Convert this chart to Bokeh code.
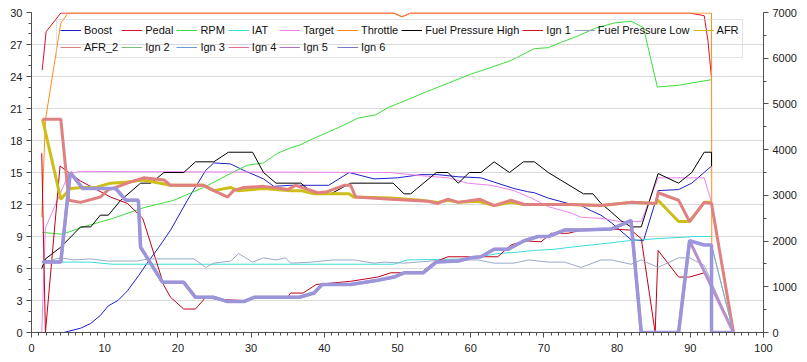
from bokeh.plotting import figure
from bokeh.models import (Range1d, LinearAxis, Legend, LegendItem, ColumnDataSource,
                          SingleIntervalTicker)
from bokeh.embed import file_html
from bokeh.resources import INLINE

# ---------------- data (x = time, y = value) ----------------
boost = [(4.4, 0), (6.7, 0.4), (8.1, 0.85), (9.4, 1.6), (10.5, 2.5), (11.8, 3.0), (13.1, 3.9),
         (14.6, 5.3), (15.9, 6.6), (17.4, 8.0), (19.0, 9.6), (21.3, 12.4), (23.8, 15.2), (24.9, 15.9),
         (27.2, 15.8), (29.0, 15.2), (31.7, 14.4), (33.1, 13.7), (35.4, 13.8), (40.6, 13.8),
         (43.4, 15.0), (46.8, 14.4), (50.0, 14.5), (53.2, 14.8), (55.5, 14.8), (58.3, 14.6),
         (61.4, 14.5), (63.2, 14.1), (65.9, 13.5), (67.8, 13.2), (68.7, 13.1), (70.6, 12.6),
         (73.3, 12.1), (75.1, 11.9), (76.5, 11.4), (77.8, 11.0), (79.2, 10.3), (81.9, 8.7),
         (83.6, 8.6), (85.3, 12.4), (85.6, 13.3), (88.4, 13.4), (90.2, 14.0), (92.9, 15.6)]
pedal = [(1.46, 24.6), (2.0, 28.2), (4.0, 29.95), (49.5, 29.95), (50.6, 29.6), (51.8, 29.95),
         (89.9, 29.95), (91.9, 29.7), (92.4, 27.4), (92.9, 23.9)]
rpm = [(1.5, 2190), (4.2, 2150), (7.1, 2310), (11.2, 2500), (15.3, 2730), (19.4, 2890),
       (23.5, 3170), (27.2, 3480), (29.5, 3660), (31.7, 3710), (33.6, 3920), (35.4, 4040),
       (36.8, 4110), (38.6, 4250), (41.9, 4480), (44.6, 4690), (47.0, 4760), (48.7, 4920),
       (50.9, 5060), (54.0, 5270), (57.0, 5460), (60.0, 5650), (63.0, 5810), (65.5, 5950),
       (68.7, 6210), (70.6, 6230), (72.4, 6350), (74.7, 6490), (76.9, 6650), (79.6, 6770),
       (81.9, 6810), (83.6, 6670), (85.5, 5370), (88.5, 5410), (90.2, 5460), (92.9, 5530)]
iat = [(1.5, 6.6), (8.0, 6.6), (11.0, 6.4), (49.5, 6.4), (51.3, 6.8), (59.6, 6.9), (63.7, 7.4),
       (65.9, 7.5), (68.7, 7.7), (71.4, 7.8), (73.7, 8.0), (77.8, 8.3), (81.5, 8.6), (85.6, 8.8),
       (90.6, 9.0), (92.9, 9.0)]
target = [(1.4, 0), (1.9, 9.8), (5.1, 14.9), (6.7, 15.1), (49.0, 15.0), (53.2, 14.7), (56.9, 14.5),
          (59.6, 14.0), (62.8, 13.8), (65.9, 13.3), (68.3, 12.6), (70.6, 11.8), (73.7, 11.2),
          (75.1, 10.8), (77.8, 10.7), (80.5, 10.4), (83.3, 10.4), (85.6, 14.5), (91.9, 14.5),
          (92.9, 12.2), (95.9, 0)]
throttle = [(1.4, 10.8), (1.9, 19.9), (4.0, 29.0), (5.0, 29.95), (49.5, 29.95), (50.6, 29.6),
            (51.8, 29.95), (92.9, 29.95), (92.95, 0)]
fuel_high = [(1.4, 6.0), (1.9, 6.9), (4.0, 8.0), (6.7, 9.9), (8.1, 9.9), (9.4, 11.0), (10.5, 11.0),
             (12.2, 12.4), (14.9, 14.0), (16.3, 14.0), (18.1, 15.0), (20.8, 15.0), (22.4, 16.0),
             (24.9, 16.0), (26.9, 16.9), (30.2, 16.9), (31.7, 15.0), (33.4, 14.0), (36.8, 14.0),
             (38.6, 13.0), (40.9, 13.0), (43.6, 14.0), (49.4, 14.0), (50.9, 13.0), (51.8, 13.0),
             (55.3, 15.0), (56.9, 15.0), (58.3, 14.0), (59.8, 15.0), (61.4, 15.0), (63.2, 16.0),
             (65.3, 15.0), (67.2, 16.0), (68.7, 16.0), (70.6, 15.0), (75.4, 13.0), (76.7, 13.0),
             (77.8, 12.1), (79.2, 11.3), (80.5, 10.5), (81.9, 9.9), (83.3, 9.9), (85.6, 14.9),
             (88.4, 14.0), (90.2, 15.0), (91.9, 16.9), (92.9, 16.9), (92.9, 15.6)]
ign1 = [(1.4, 16.8), (1.9, 0), (3.9, 15.6), (6.7, 14.2), (10.8, 12.7), (13.1, 12.1), (15.2, 10.7),
        (18.1, 4.4), (19.0, 3.3), (20.8, 2.2), (22.4, 2.2), (23.8, 3.3), (25.4, 3.1), (29.0, 3.0),
        (30.4, 3.3), (35.0, 3.3), (35.4, 3.7), (37.1, 3.7), (38.9, 4.5), (43.6, 4.8), (47.3, 5.2),
        (49.1, 5.6), (53.2, 5.6), (55.0, 6.6), (56.9, 7.1), (63.7, 7.1), (65.5, 8.2), (67.3, 8.6),
        (69.6, 8.5), (71.0, 9.3), (73.3, 9.3), (75.1, 9.6), (79.2, 9.7), (81.9, 9.6), (83.3, 8.8),
        (85.2, 0), (85.6, 7.7), (88.4, 5.2), (89.9, 5.2), (91.9, 5.6)]
fuel_low = [(1.5, 6.6), (4.0, 7.0), (5.8, 6.8), (8.1, 6.9), (10.4, 6.7), (14.5, 6.7), (15.9, 6.9),
            (22.2, 6.9), (23.8, 6.1), (24.9, 6.5), (27.2, 6.7), (28.3, 7.4), (30.2, 6.6), (31.7, 7.0),
            (33.4, 6.8), (34.7, 7.0), (35.4, 6.5), (38.2, 6.6), (41.2, 6.8), (44.1, 6.8), (46.8, 6.5),
            (48.2, 6.6), (50.9, 6.5), (56.4, 6.8), (61.0, 6.8), (63.2, 6.5), (65.9, 6.5), (67.9, 6.8),
            (70.6, 6.6), (72.8, 6.6), (75.1, 6.1), (77.8, 6.8), (79.2, 6.8), (81.9, 6.4), (83.3, 6.8),
            (85.6, 6.1), (88.4, 7.0), (89.9, 7.0), (91.9, 6.3), (95.9, 0)]
afr = [(1.5, 20.0), (4.0, 12.5), (5.3, 13.5), (7.0, 13.6), (8.8, 13.6), (10.8, 14.0), (13.1, 14.1),
       (15.2, 14.3), (17.6, 14.0), (19.0, 13.8), (23.5, 13.8), (24.9, 13.3), (27.2, 13.6),
       (28.2, 13.3), (31.7, 13.5), (35.4, 13.3), (36.8, 13.3), (38.6, 13.0), (43.4, 13.0),
       (44.0, 12.7), (49.1, 12.6), (53.2, 12.4), (55.5, 12.2), (56.9, 12.4), (58.3, 12.2),
       (61.0, 12.3), (63.2, 11.9), (65.5, 12.2), (67.3, 12.0), (73.7, 12.0), (77.8, 11.9),
       (81.9, 12.2), (85.3, 12.1), (85.6, 12.4), (88.4, 10.4), (89.9, 10.4), (91.9, 12.2),
       (92.9, 12.2)]
afr_2 = [(1.5, 20.0), (4.0, 20.0), (5.1, 12.4), (6.7, 12.2), (9.4, 12.7), (10.5, 13.4), (11.5, 13.6),
         (13.1, 14.0), (15.3, 14.5), (18.1, 14.3), (19.0, 13.8), (23.5, 13.8), (24.9, 13.3),
         (26.8, 12.7), (27.6, 13.3), (29.0, 13.6), (31.7, 13.7), (34.1, 13.5), (35.0, 13.4),
         (36.1, 13.8), (39.1, 13.1), (40.4, 13.2), (42.7, 13.8), (43.6, 13.8), (44.3, 12.7),
         (49.1, 12.5), (54.2, 12.3), (55.5, 12.1), (56.9, 12.5), (58.3, 12.2), (61.2, 12.5),
         (63.2, 11.9), (65.5, 12.4), (67.3, 12.0), (73.7, 12.0), (77.8, 11.9), (81.9, 12.2),
         (85.3, 12.1), (85.6, 13.1), (88.4, 12.4), (89.9, 10.4), (91.9, 12.2), (92.9, 12.1), (95.9, 0)]
ign_common = [(1.5, 6.6), (4.0, 6.6), (5.3, 15.0), (7.0, 13.5), (11.5, 13.5), (12.9, 12.4), (14.6, 12.4),
              (14.9, 8.0), (17.9, 4.7), (20.8, 4.7), (22.4, 3.3), (24.9, 3.3), (26.8, 2.9), (29.0, 2.9),
              (30.4, 3.3), (36.6, 3.3), (38.6, 3.7), (39.7, 4.5), (43.6, 4.5), (47.3, 4.9), (49.5, 5.2),
              (50.9, 5.6), (53.5, 5.6), (55.3, 6.6), (58.3, 6.7), (60.0, 7.0), (61.4, 7.1), (63.2, 7.8),
              (65.1, 7.8), (67.3, 8.6), (69.2, 9.0), (70.6, 9.0), (72.8, 9.6), (75.1, 9.6), (79.2, 9.7),
              (81.9, 10.5), (83.3, 0), (88.4, 0), (89.9, 8.6)]
ign2_tail = [(91.9, 8.2), (92.9, 8.2), (95.9, 0)]
ign3_tail = [(91.9, 8.2), (92.9, 8.2), (95.9, 0)]
ign4_tail = [(95.9, 0)]
ign5_tail = [(95.9, 0)]
ign6_tail = [(91.9, 8.2), (92.9, 8.2), (92.9, 0), (95.9, 0)]

x_ticks_interval = 10
left_ticks_interval = 3
right_ticks_interval = 1000

FONT = "Liberation Sans"

p = figure(width=807, height=362, frame_width=732, frame_height=320,
           output_backend="svg", toolbar_location=None,
           x_range=Range1d(0, 100), y_range=Range1d(0, 30),
           min_border_left=31, min_border_right=44, min_border_top=12, min_border_bottom=30,
           background_fill_color="white", border_fill_color="white")
p.outline_line_color = None
p.extra_y_ranges = {"rpm": Range1d(0, 7000)}


def style_axis(ax, standoff):
    ax.axis_line_color = "#505050"
    ax.major_tick_line_color = "#505050"
    ax.minor_tick_line_color = "#505050"
    ax.major_tick_out = 5
    ax.major_tick_in = 0
    ax.minor_tick_out = 3
    ax.minor_tick_in = 0
    ax.major_label_text_font = FONT
    ax.major_label_text_font_size = "11px"
    ax.major_label_text_color = "#202020"
    ax.major_label_standoff = standoff


p.xaxis.ticker = SingleIntervalTicker(interval=x_ticks_interval, num_minor_ticks=10)
p.yaxis.ticker = SingleIntervalTicker(interval=left_ticks_interval, num_minor_ticks=3)
style_axis(p.xaxis[0], 6)
style_axis(p.yaxis[0], 4)
rax = LinearAxis(y_range_name="rpm",
                 ticker=SingleIntervalTicker(interval=right_ticks_interval, num_minor_ticks=2))
style_axis(rax, 4)
p.add_layout(rax, "right")

p.xgrid.visible = False
p.ygrid.grid_line_color = "#DADADA"
p.ygrid.ticker = p.yaxis[0].ticker


def src(pairs):
    return ColumnDataSource(dict(x=[a for a, b in pairs], y=[b for a, b in pairs]))


# label, data, line colour, width, range, legend sample colour
series = [
    ("Boost", boost, "#1F1FCC", 1, "default", "#1F1FCC"),
    ("Pedal", pedal, "#E0102A", 1, "default", "#E0102A"),
    ("RPM", rpm, "#3CDC3C", 1, "rpm", "#3CDC3C"),
    ("IAT", iat, "#3CDCDC", 1, "default", "#3CDCDC"),
    ("Target", target, "#EE82EE", 1, "default", "#EE82EE"),
    ("Throttle", throttle, "#FF8C1A", 1, "default", "#FF8C1A"),
    ("Fuel Pressure High", fuel_high, "#000000", 1, "default", "#000000"),
    ("Ign 1", ign1, "#C00018", 1, "default", "#D01020"),
    ("Fuel Pressure Low", fuel_low, "#9AAAC8", 1, "default", "#90A0C0"),
    ("AFR", afr, "#CDBE1A", 3, "default", "#E0B010"),
    ("AFR_2", afr_2, "#E08080", 3, "default", "#D88080"),
    ("Ign 2", ign_common + ign2_tail, "#88C888", 1, "default", "#78C078"),
    ("Ign 3", ign_common + ign3_tail, "#80A8D8", 1, "default", "#6E98D0"),
    ("Ign 4", ign_common + ign4_tail, "#E07890", 2, "default", "#E07090"),
    ("Ign 5", ign_common + ign5_tail, "#B890D0", 3, "default", "#B070C8"),
    ("Ign 6", ign_common + ign6_tail, "#9B95D9", 3.5, "default", "#7878C4"),
]

items = []
for label, pairs, color, width, rng, lcolor in series:
    p.line("x", "y", source=src(pairs), line_color=color, line_width=width, y_range_name=rng)
    # thin stand-in line (outside the visible range) so every legend entry shows a 1px sample
    dummy = p.line(x=[-50, -40], y=[-50, -50], line_color=lcolor, line_width=1)
    items.append(LegendItem(label=label, renderers=[dummy]))

legend = Legend(items=items, location=(25, 274), orientation="horizontal", ncols=10,
                background_fill_alpha=0.0, border_line_color="#C8C8C8",
                label_text_font=FONT, label_text_font_size="11px", label_text_color="#101010",
                glyph_width=21, glyph_height=14, label_standoff=3, spacing=3, padding=3, margin=0,
                label_height=14)
p.add_layout(legend)

open("out.html", "w").write(file_html(p, INLINE))
